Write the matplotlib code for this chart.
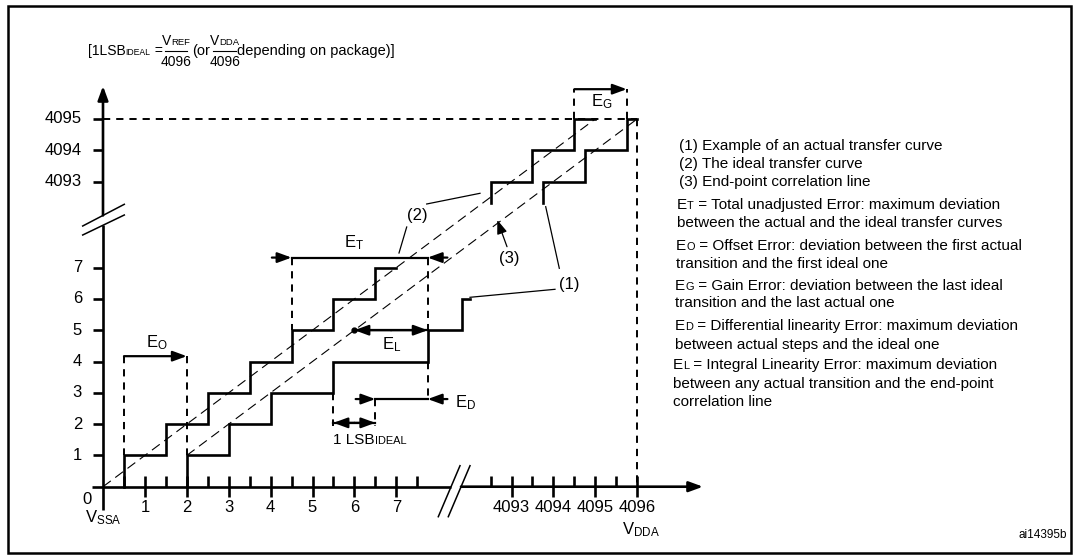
import numpy as np
import matplotlib.pyplot as plt
from matplotlib.patches import Rectangle
from matplotlib.offsetbox import TextArea, HPacker, AnnotationBbox

plt.rcParams['font.family'] = 'Liberation Sans'
plt.rcParams['mathtext.fontset'] = 'custom'
plt.rcParams['mathtext.rm'] = 'Liberation Sans'
plt.rcParams['mathtext.it'] = 'Liberation Sans:italic'
plt.rcParams['lines.scale_dashes'] = False

W, H = 1079, 559
X0, Y0 = 103.0, 486.7    # pixel position of code (0, 0)
SX, SY = 41.9, 31.3      # pixels per LSB on each axis
OFF = 4083.25            # the 409x codes are drawn just after the break

# ---- data ----
x_ticks_low = [1, 2, 3, 4, 5, 6, 7]
x_ticks_high = [4093, 4094, 4095, 4096]
x_minor = [0.5, 1.5, 2.5, 3.5, 4.5, 5.5, 6.5, 7.5, 4092.5, 4093.5, 4094.5, 4095.5]
y_ticks_low = [1, 2, 3, 4, 5, 6, 7]
y_ticks_high = [4093, 4094, 4095]

# (2) ideal transfer curve
ideal_low_x = [0.5, 1.5, 2.5, 3.5, 4.5, 5.5, 6.5]
ideal_low_lvl = [1, 2, 3, 4, 5, 6, 7]
ideal_low_end = 7.0
ideal_high_x = [4092.5, 4093.5, 4094.5]
ideal_high_lvl = [4093, 4094, 4095]
ideal_high_end = 4095.0

# (1) actual transfer curve
actual_low_x = [2, 3, 4, 5.5, 7.75, 8.57]
actual_low_lvl = [1, 2, 3, 4, 5, 6]
actual_low_end = 8.75
actual_high_x = [4093.75, 4094.75, 4095.75]
actual_high_lvl = [4093, 4094, 4095]
actual_high_end = 4096.0
high_start = 4092.3

# error markers
e_offset = (0.5, 2.0, 4.17)        # x from, x to, height
e_total = (4.5, 7.75, 7.32)
e_lin = (6.0, 7.75, 5.0)
e_diff = (6.5, 7.75, 2.8)
lsb = (5.5, 6.5, 2.04)
e_gain = (4094.5, 4095.75, 4095.95)

legend_lines = [
    (679, 146, [('(1) Example of an actual transfer curve', 1)]),
    (679, 164.3, [('(2) The ideal transfer curve', 1)]),
    (679, 182.3, [('(3) End-point correlation line', 1)]),
    (677, 205, [('E', 1), ('T', 0.72), (' = Total unadjusted Error: maximum deviation', 1)]),
    (677, 223.3, [('between the actual and the ideal transfer curves', 1)]),
    (676, 245.7, [('E', 1), ('O', 0.72), (' = Offset Error: deviation between the first actual', 1)]),
    (676, 264, [('transition and the first ideal one', 1)]),
    (675, 285.7, [('E', 1), ('G', 0.72), (' = Gain Error: deviation between the last ideal', 1)]),
    (675, 303.3, [('transition and the last actual one', 1)]),
    (675, 326, [('E', 1), ('D', 0.72), (' = Differential linearity Error: maximum deviation', 1)]),
    (675, 345, [('between actual steps and the ideal one', 1)]),
    (673, 365, [('E', 1), ('L', 0.72), (' = Integral Linearity Error: maximum deviation', 1)]),
    (673, 384, [('between any actual transition and the end-point', 1)]),
    (673, 402.3, [('correlation line', 1)]),
]


def p(c):
    return c - OFF if c > 1000 else c


def U(px):
    return (px - X0) / SX


def V(py):
    return (Y0 - py) / SY


def stair(xs, lvls, start, end):
    sx, sy = [], []
    prev = start
    for x, l in zip(xs, lvls):
        sx += [p(x), p(x)]
        sy += [p(prev), p(l)]
        prev = l
    sx.append(p(end))
    sy.append(p(prev))
    return sx, sy


def arrow(ax, tip, tail, lw=1.6):
    ax.annotate('', xy=tip, xytext=tail,
                arrowprops=dict(arrowstyle='-|>,head_length=0.6,head_width=0.22',
                                color='k', lw=lw, shrinkA=0, shrinkB=0,
                                mutation_scale=14))


def rich(ax, x, y, parts, size, align=(0, 0.5)):
    boxes = [TextArea(s, textprops=dict(fontsize=size * k, color='k')) for s, k in parts]
    pack = HPacker(children=boxes, align='baseline', pad=0, sep=0)
    ab = AnnotationBbox(pack, (x, H - y), xycoords='figure pixels',
                        box_alignment=align, frameon=False, pad=0)
    ax.add_artist(ab)


fig = plt.figure(figsize=(W / 100, H / 100), dpi=100)
ax = fig.add_axes([0, 0, 1, 1])
ax.set_xlim(U(0), U(W))
ax.set_ylim(V(H), V(0))
ax.axis('off')

# frame
ax.add_patch(Rectangle((U(7.5), V(553)), (1071 - 7.5) / SX, (553 - 6) / SY,
                       fill=False, lw=1.8, ec='k'))

# axes
LW = 1.9
ax.plot([U(91.7), U(451)], [0, 0], 'k', lw=LW, solid_capstyle='butt')
arrow(ax, (U(703), 0), (U(461), 0), lw=LW)
ax.plot([0, 0], [V(510), V(225.2)], 'k', lw=LW, solid_capstyle='butt')
arrow(ax, (0, V(86)), (0, V(215.4)), lw=LW)
for a, b in [((82.7, 226), (124.3, 204.3)), ((82.7, 235), (124.3, 215)),
             ((438.3, 516.7), (460, 465.7)), ((448.3, 516.7), (470, 465.7))]:
    ax.plot([U(a[0]), U(b[0])], [V(a[1]), V(b[1])], 'k', lw=1.1)

tk = 10.5
for c in x_ticks_low + x_ticks_high:
    ax.plot([p(c)] * 2, [-tk / SY, tk / SY], 'k', lw=LW, solid_capstyle='butt')
    ax.text(p(c), V(507), str(c), fontsize=12, ha='center', va='center')
for c in x_minor:
    ax.plot([p(c)] * 2, [0, tk / SY], 'k', lw=LW, solid_capstyle='butt')
for c in y_ticks_low + y_ticks_high:
    ax.plot([-tk / SX, 0], [p(c)] * 2, 'k', lw=LW, solid_capstyle='butt')
    ax.text(U(82), p(c), str(c), fontsize=12, ha='right', va='center')
ax.text(U(87), V(500), '0', fontsize=12, ha='center', va='center')
ax.text(U(85), V(518), r'V$_\mathrm{SSA}$', fontsize=12, ha='left', va='center')
ax.text(U(641), V(530), r'V$_\mathrm{DDA}$', fontsize=12, ha='center', va='center')

# reference dashed lines (4095 level and 4096 input)
DL = dict(color='k', lw=1.4, dashes=(5.2, 4.3))
ax.plot([0, p(4096)], [p(4095), p(4095)], **DL)
ax.plot([p(4096), p(4096)], [p(4095), 0], **DL)

# ideal line and end-point correlation line
DD = dict(color='k', lw=0.8, dashes=(7, 4))
ax.plot([0, p(4095)], [0, p(4095)], **DD)
ax.plot([actual_low_x[0], p(actual_high_end)], [actual_low_lvl[0], p(4095)], **DD)

# staircases
for xs, lv, st, en in [(ideal_low_x, ideal_low_lvl, 0, ideal_low_end),
                       (actual_low_x, actual_low_lvl, 0, actual_low_end),
                       (ideal_high_x, ideal_high_lvl, high_start, ideal_high_end),
                       (actual_high_x, actual_high_lvl, high_start, actual_high_end)]:
    sx, sy = stair(xs, lv, st, en)
    ax.plot(sx, sy, 'k', lw=LW, solid_joinstyle='miter')

# E_O
a, b, h = e_offset
ax.plot([a, a], [h, 1], **DL)
ax.plot([b, b], [h, 1], **DL)
arrow(ax, (b, h), (a, h))
ax.text(U(156.7), V(343), r'E$_\mathrm{O}$', fontsize=12, ha='center', va='center')

# E_T
a, b, h = e_total
ax.plot([a, a], [h, 5], **DL)
ax.plot([b, b], [h, 5], **DL)
ax.plot([a, b], [h, h], 'k', lw=1.6)
arrow(ax, (a, h), (a - 0.47, h))
arrow(ax, (b, h), (b + 0.47, h))
ax.text(6.0, V(243), r'E$_\mathrm{T}$', fontsize=12, ha='center', va='center')

# E_L
a, b, h = e_lin
ax.plot([a, b], [h, h], 'k', lw=1.6)
arrow(ax, (a, h), ((a + b) / 2, h))
arrow(ax, (b, h), ((a + b) / 2, h))
ax.plot([a], [h], 'ko', ms=3.5)
ax.text(6.89, V(345), r'E$_\mathrm{L}$', fontsize=12, ha='center', va='center')

# E_D and 1 LSB
a, b, h = e_diff
ax.plot([b, b], [4, h], **DL)
ax.plot([a, a], [h, lsb[2] - 0.1], **DL)
ax.plot([lsb[0], lsb[0]], [3, lsb[2] - 0.1], **DL)
ax.plot([a, b], [h, h], 'k', lw=1.6)
arrow(ax, (a, h), (a - 0.47, h))
arrow(ax, (b, h), (b + 0.47, h))
ax.text(U(455), V(403), r'E$_\mathrm{D}$', fontsize=12, ha='left', va='center')
l0, l1, h = lsb
ax.plot([l0, l1], [h, h], 'k', lw=1.6)
arrow(ax, (l0, h), ((l0 + l1) / 2, h))
arrow(ax, (l1, h), ((l0 + l1) / 2, h))
rich(ax, 333, 440, [('1 LSB', 1), ('IDEAL', 0.72)], 11)

# E_G
a, b, h = e_gain
ax.plot([p(a), p(a)], [p(4095), p(h)], **DL)
ax.plot([p(b), p(b)], [p(4095), p(h)], **DL)
arrow(ax, (p(b), p(h)), (p(a), p(h)))
ax.text(U(601.7), V(101.7), r'E$_\mathrm{G}$', fontsize=12, ha='center', va='center')

# callouts
LL = dict(color='k', lw=0.9)
ax.text(U(417), V(216), '(2)', fontsize=12, ha='center', va='center')
ax.plot([U(426.7), U(480)], [V(204), V(193.3)], **LL)
ax.plot([U(406.7), U(399)], [V(227), V(253)], **LL)
ax.text(U(509.3), V(258.3), '(3)', fontsize=12, ha='center', va='center')
arrow(ax, (U(497.3), V(220)), (U(507), V(246.7)), lw=0.9)
ax.text(U(569.3), V(285), '(1)', fontsize=12, ha='center', va='center')
ax.plot([U(559.3), U(545.7)], [V(268.3), V(206.7)], **LL)
ax.plot([U(555), U(470)], [V(289.3), V(297.3)], **LL)

# formula
rich(ax, 88, 51, [('[1LSB', 1), ('IDEAL', 0.62), (' =', 1)], 10)
rich(ax, 176, 41, [('V', 1), ('REF', 0.68)], 10, align=(0.5, 0.5))
ax.plot([U(165), U(187)], [V(51), V(51)], 'k', lw=0.8)
rich(ax, 176, 62, [('4096', 1)], 10, align=(0.5, 0.5))
rich(ax, 192, 51, [('(or', 1)], 10.5)
rich(ax, 225, 41, [('V', 1), ('DDA', 0.68)], 10, align=(0.5, 0.5))
ax.plot([U(213), U(236)], [V(51), V(51)], 'k', lw=0.8)
rich(ax, 225, 62, [('4096', 1)], 10, align=(0.5, 0.5))
rich(ax, 237, 51, [('depending on package)]', 1)], 10.5)

# explanation block
for x, y, parts in legend_lines:
    rich(ax, x, y, parts, 11)

ax.text(U(1067), V(535), 'ai14395b', fontsize=8.5, ha='right', va='center')

fig.savefig('out.png', dpi=100)
